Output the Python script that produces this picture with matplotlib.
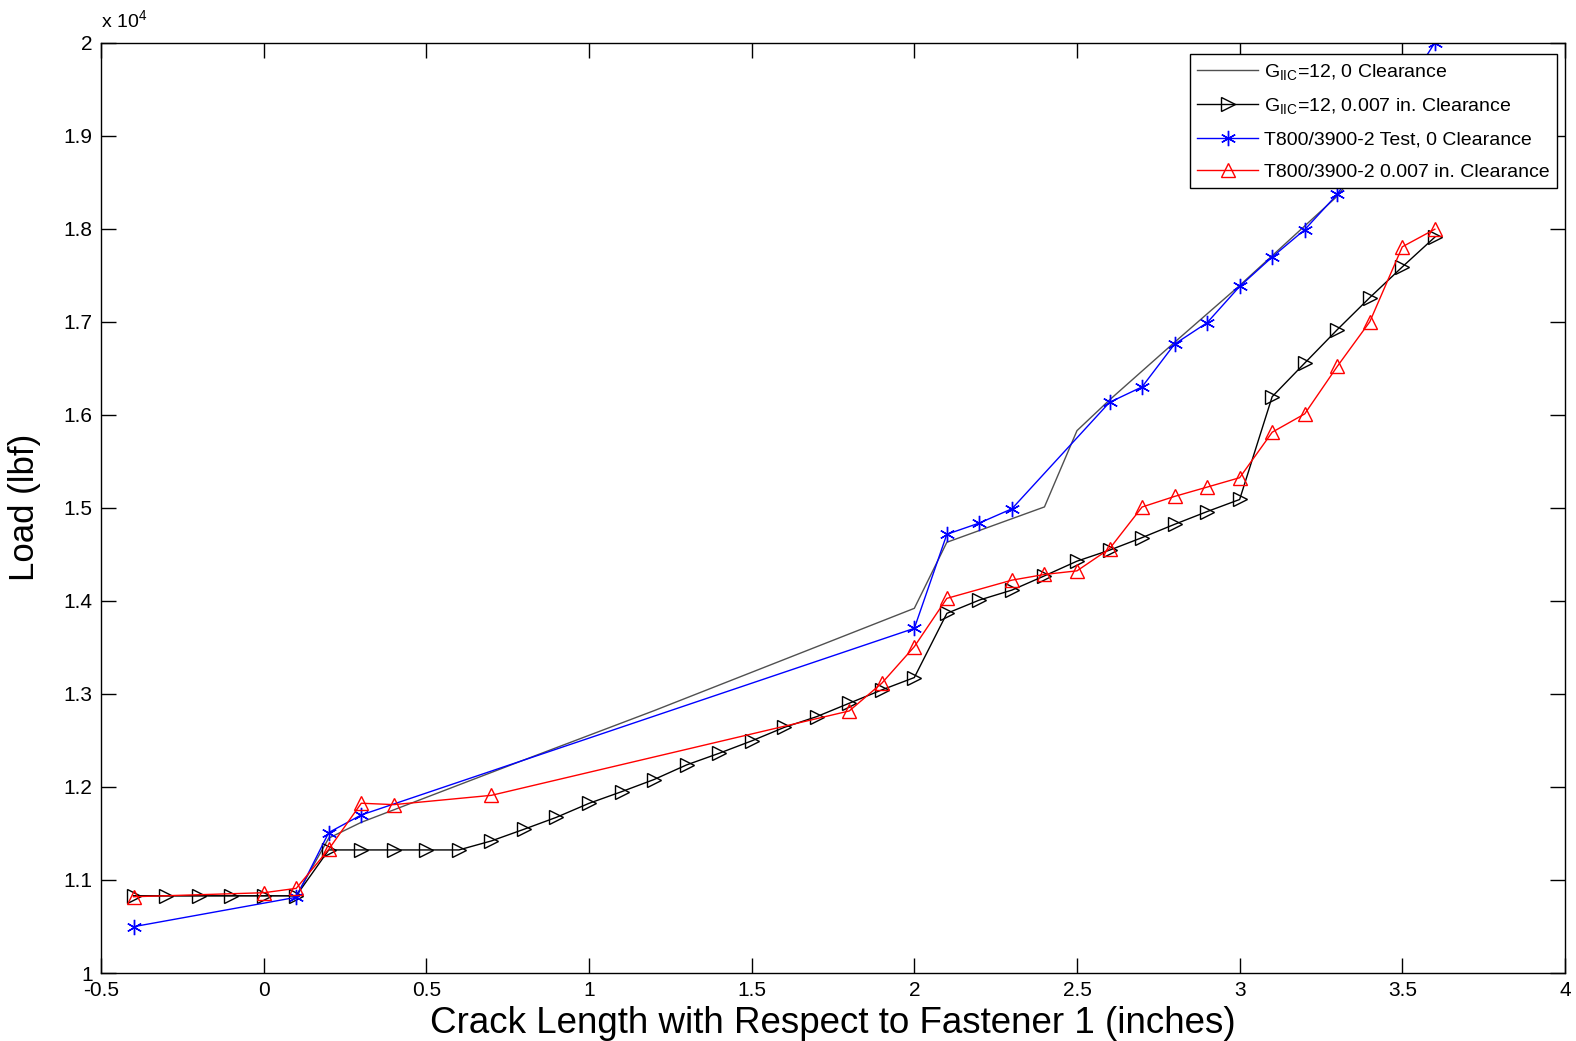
import matplotlib
matplotlib.use("Agg")
from matplotlib import pyplot as plt
from matplotlib.ticker import FuncFormatter

# font settings (Helvetica-like)
plt.rcParams['font.family'] = ['Liberation Sans', 'DejaVu Sans']
plt.rcParams['mathtext.fontset'] = 'custom'
plt.rcParams['mathtext.rm'] = 'Liberation Sans'
plt.rcParams['mathtext.it'] = 'Liberation Sans:italic'

# G_IIC=12, 0 clearance (model line, no markers)
x_g0 = [-0.4, 0.1, 0.2, 0.3, 0.8, 1.2, 1.6, 2.0, 2.1, 2.4, 2.5, 2.6, 2.7, 2.8, 3.0, 3.3, 3.6]
y_g0 = [10830, 10830, 11450, 11620, 12290, 12820, 13370, 13920, 14630, 15010, 15830, 16160,
        16470, 16780, 17390, 18350, 19700]

# G_IIC=12, 0.007 in. clearance (model, triangles)
x_g7 = [-0.4, -0.3, -0.2, -0.1, 0.0, 0.1, 0.2, 0.3, 0.4, 0.5, 0.6, 0.7, 0.8, 0.9, 1.0,
        1.1, 1.2, 1.3, 1.4, 1.5, 1.6, 1.7, 1.8, 1.9, 2.0, 2.1, 2.2, 2.3, 2.4, 2.5,
        2.6, 2.7, 2.8, 2.9, 3.0, 3.1, 3.2, 3.3, 3.4, 3.5, 3.6]
y_g7 = [10830, 10830, 10830, 10830, 10830, 10830, 11323, 11323, 11323, 11323, 11323,
        11420, 11545, 11674, 11824, 11949, 12080, 12237, 12362, 12495, 12640, 12756,
        12900, 13043, 13176, 13866, 14009, 14116, 14269, 14427, 14545, 14680, 14823,
        14960, 15090, 16195, 16556, 16915, 17260, 17590, 17910]

# T800/3900-2 test, 0 clearance
x_t0 = [-0.4, 0.1, 0.2, 0.3, 2.0, 2.1, 2.2, 2.3, 2.6, 2.7, 2.8, 2.9, 3.0, 3.1, 3.2, 3.3, 3.4, 3.5, 3.6]
y_t0 = [10498, 10814, 11510, 11699, 13705, 14716, 14837, 14990, 16134, 16300, 16760,
        16990, 17380, 17696, 17990, 18370, 18900, 19450, 20000]

# T800/3900-2, 0.007 in. clearance
x_t7 = [-0.4, 0.0, 0.1, 0.2, 0.3, 0.4, 0.7, 1.8, 1.9, 2.0, 2.1, 2.3, 2.4, 2.5, 2.6,
        2.7, 2.8, 2.9, 3.0, 3.1, 3.2, 3.3, 3.4, 3.5, 3.6]
y_t7 = [10820, 10863, 10910, 11330, 11825, 11810, 11910, 12817, 13115, 13508, 14027,
        14223, 14284, 14323, 14560, 15009, 15123, 15223, 15324, 15813, 16010, 16520,
        17000, 17806, 17995]

labels = [r'G$_{\mathrm{IIC}}$=12, 0 Clearance',
          r'G$_{\mathrm{IIC}}$=12, 0.007 in. Clearance',
          'T800/3900-2 Test, 0 Clearance',
          'T800/3900-2 0.007 in. Clearance']

fig = plt.figure(figsize=(15.76, 10.41), dpi=100)
ax = fig.add_axes([0.0641, 0.0653, 0.9289, 0.8937])

ax.plot(x_g0, y_g0, color='#505050', linewidth=1, label=labels[0])
ax.plot(x_g7, y_g7, color='k', linewidth=1, marker='>', markersize=10,
        markerfacecolor='none', markeredgecolor='k', markeredgewidth=1, label=labels[1])
ax.plot(x_t0, y_t0, color='b', linewidth=1, marker=(6, 2, 0), markersize=11,
        markeredgewidth=1, label=labels[2])
ax.plot(x_t7, y_t7, color='r', linewidth=1, marker='^', markersize=10,
        markerfacecolor='none', markeredgecolor='r', markeredgewidth=1, label=labels[3])

ax.set_xlim(-0.5, 4)
ax.set_ylim(10000, 20000)
ax.set_xticks([-0.5, 0, 0.5, 1, 1.5, 2, 2.5, 3, 3.5, 4])
ax.xaxis.set_major_formatter(FuncFormatter(lambda v, p: '{:g}'.format(v)))
ax.set_yticks(range(10000, 20001, 1000))
ax.yaxis.set_major_formatter(FuncFormatter(lambda v, p: '{:g}'.format(round(v / 1e4, 1))))
ax.text(0.0, 1.012, r'x 10$^{4}$', transform=ax.transAxes, fontsize=14,
        ha='left', va='bottom')

ax.tick_params(direction='in', length=11, width=1, top=True, right=True,
               labelsize=15, pad=6)
for s in ax.spines.values():
    s.set_linewidth(1)

ax.set_xlabel('Crack Length with Respect to Fastener 1 (inches)', fontsize=26.5, labelpad=4)
ax.set_ylabel('Load (lbf)', fontsize=25, labelpad=16)

leg = ax.legend(loc='upper right', bbox_to_anchor=(0.9945, 0.988), borderaxespad=0,
                fontsize=14, frameon=True, fancybox=False, framealpha=1,
                edgecolor='k', handlelength=3.1, handletextpad=0.3,
                labelspacing=0.75)
leg.get_frame().set_linewidth(1)

plt.savefig('out.png', dpi=100)
